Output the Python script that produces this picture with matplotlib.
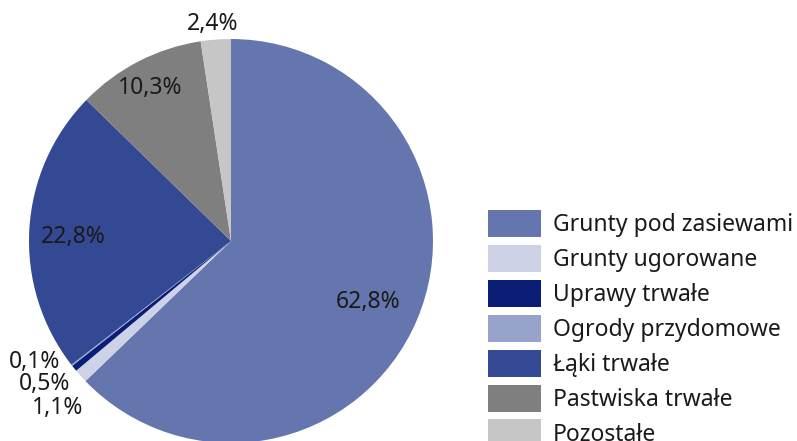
import numpy as np
import matplotlib.pyplot as plt
from matplotlib.patches import Patch

plt.rcParams['font.family'] = ['Noto Sans', 'DejaVu Sans']

categories = ['Grunty pod zasiewami', 'Grunty ugorowane', 'Uprawy trwałe',
              'Ogrody przydomowe', 'Łąki trwałe', 'Pastwiska trwałe', 'Pozostałe']
shares = [62.8, 1.1, 0.5, 0.1, 22.8, 10.3, 2.4]
labels = ['62,8%', '1,1%', '0,5%', '0,1%', '22,8%', '10,3%', '2,4%']
colors = ['#6576AE', '#CDD2E6', '#0A1E78', '#98A3CB', '#344993', '#7F7F7F', '#C6C6C6']

fig = plt.figure(figsize=(7.97, 4.41), dpi=100)
ax = fig.add_axes([0, 0, 1, 1])

cx, cy, r = 231, 200, 202
ax.pie(shares, colors=colors, startangle=90, counterclock=False,
       center=(cx, cy), radius=r, frame=True,
       wedgeprops=dict(edgecolor='none', linewidth=0))
ax.set_xlim(0, 797)
ax.set_ylim(0, 441)
ax.set_aspect('equal')
ax.axis('off')

# label positions for each slice
label_pos = {0: (368, 139), 4: (73, 204), 5: (150, 353), 6: (213, 417),
             3: (35, 79), 2: (45, 57), 1: (58, 33)}
for i, lab in enumerate(labels):
    x, y = label_pos[i]
    ax.text(x, y, lab, ha='center', va='center', fontsize=16.5, color='#1a1a1a')

handles = [Patch(facecolor=c, edgecolor='none') for c in colors]
fs = 16.5
px = fs * 100 / 72
leg = ax.legend(handles, categories, loc='upper left',
                bbox_to_anchor=(488 / 797, 1 - 210 / 441),
                bbox_transform=fig.transFigure, frameon=False, fontsize=fs,
                handlelength=53 / px, handleheight=1.437, labelspacing=0.34,
                handletextpad=12 / px, borderpad=0, borderaxespad=0)
for t in leg.get_texts():
    t.set_color('#1a1a1a')

fig.savefig('out.png', dpi=100)
